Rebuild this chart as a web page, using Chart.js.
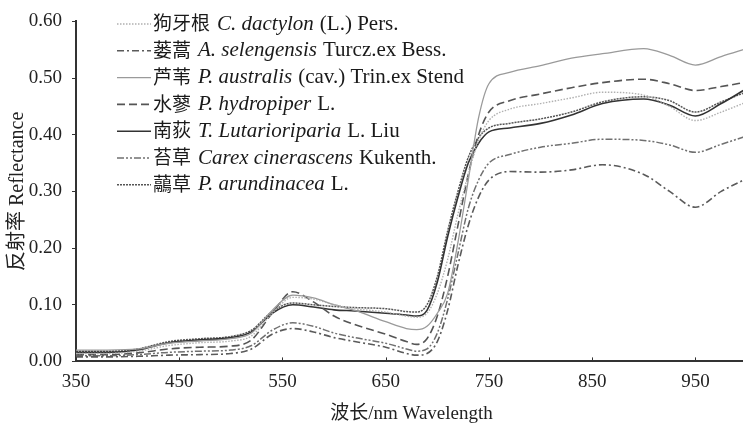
<!DOCTYPE html>
<html>
<head>
<meta charset="utf-8">
<script src="https://cdn.jsdelivr.net/npm/chart.js@4.4.1/dist/chart.umd.min.js"></script>
<style>
  html, body { margin: 0; padding: 0; background: #fff; overflow: hidden; }
  #wrap { width: 750px; height: 427px; }
</style>
</head>
<body>
<div id="wrap"><canvas id="spectra"></canvas></div>
<script>
// wavelengths (nm)
var wavelength = [350,380,410,440,470,500,520,540,560,580,600,620,650,670,680,690,700,710,720,730,740,750,770,800,830,860,900,925,950,975,1000];

// reflectance per species
var cynodon     = [0.014,0.014,0.018,0.028,0.033,0.036,0.045,0.085,0.113,0.110,0.100,0.093,0.087,0.080,0.078,0.085,0.120,0.180,0.260,0.330,0.390,0.425,0.445,0.455,0.465,0.475,0.470,0.450,0.425,0.440,0.458];
var artemisia   = [0.008,0.008,0.009,0.011,0.012,0.014,0.022,0.048,0.058,0.052,0.042,0.035,0.025,0.014,0.011,0.014,0.035,0.090,0.170,0.240,0.290,0.320,0.335,0.334,0.338,0.347,0.330,0.300,0.272,0.300,0.323];
var phragmites  = [0.020,0.020,0.022,0.032,0.036,0.040,0.050,0.090,0.117,0.112,0.100,0.090,0.070,0.058,0.056,0.062,0.085,0.120,0.210,0.320,0.430,0.490,0.510,0.522,0.535,0.543,0.552,0.540,0.523,0.538,0.552];
var polygonum   = [0.012,0.012,0.015,0.022,0.025,0.027,0.038,0.085,0.123,0.105,0.080,0.065,0.048,0.035,0.030,0.040,0.080,0.150,0.240,0.330,0.400,0.440,0.460,0.472,0.483,0.492,0.498,0.490,0.478,0.485,0.493];
var triarrhena  = [0.016,0.016,0.020,0.033,0.038,0.042,0.052,0.085,0.100,0.096,0.091,0.089,0.085,0.082,0.080,0.090,0.140,0.220,0.290,0.350,0.385,0.405,0.412,0.420,0.435,0.455,0.463,0.452,0.433,0.455,0.482];
var carex       = [0.010,0.010,0.012,0.016,0.018,0.020,0.028,0.055,0.068,0.062,0.050,0.042,0.032,0.022,0.018,0.022,0.050,0.110,0.190,0.270,0.320,0.350,0.365,0.378,0.385,0.392,0.390,0.382,0.369,0.383,0.398];
var phalaris    = [0.018,0.018,0.022,0.035,0.040,0.044,0.055,0.088,0.103,0.100,0.097,0.095,0.093,0.088,0.087,0.100,0.150,0.230,0.300,0.360,0.395,0.412,0.420,0.428,0.440,0.458,0.467,0.460,0.440,0.458,0.476];

var cnNames    = ["狗牙根", "蒌蒿", "芦苇", "水蓼", "南荻", "苔草", "虉草"];
var latinNames = ["C. dactylon", "A. selengensis", "P. australis", "P. hydropiper", "T. Lutarioriparia", "Carex cinerascens", "P. arundinacea"];
var authors    = ["(L.) Pers.", "Turcz.ex Bess.", "(cav.) Trin.ex Stend", "L.", "L. Liu", "Kukenth.", "L."];

var xTicks = [350,450,550,650,750,850,950];
var yTicks = [0,0.1,0.2,0.3,0.4,0.5,0.6];

var series = [cynodon, artemisia, phragmites, polygonum, triarrhena, carex, phalaris];
var styles = [
  {color: '#b0b0b0', dash: [1.5,1.5], width: 1.4},
  {color: '#5a5a5a', dash: [7,3,2,3], width: 1.6},
  {color: '#9a9a9a', dash: [],        width: 1.3},
  {color: '#555555', dash: [8,4],     width: 1.6},
  {color: '#333333', dash: [],        width: 1.6},
  {color: '#707070', dash: [7,2,2,2,2,2], width: 1.5},
  {color: '#555555', dash: [2,1],     width: 1.5}
];

var serif = '"Liberation Serif", "Times New Roman", serif';
var cjk = '"Noto Sans CJK SC", sans-serif';

function toPoints(arr){
  return arr.map(function(v, i){ return {x: wavelength[i], y: v}; });
}

var legendPlugin = {
  id: 'speciesLegend',
  afterDraw: function(chart){
    var ctx = chart.ctx;
    ctx.save();
    ctx.textBaseline = 'middle';
    for (var i = 0; i < cnNames.length; i++) {
      var y = 23 + i * 26.8;
      var st = styles[i];
      ctx.strokeStyle = st.color;
      ctx.lineWidth = st.width;
      ctx.setLineDash(st.dash);
      ctx.beginPath();
      ctx.moveTo(117, y + 1);
      ctx.lineTo(151, y + 1);
      ctx.stroke();
      ctx.setLineDash([]);
      var x = 153;
      ctx.fillStyle = '#1a1a1a';
      ctx.font = '19px ' + cjk;
      ctx.fillText(cnNames[i], x, y);
      x += ctx.measureText(cnNames[i]).width + 7;
      ctx.font = 'italic 21px ' + serif;
      ctx.fillText(latinNames[i], x, y + 1);
      x += ctx.measureText(latinNames[i]).width + 6;
      ctx.font = '21px ' + serif;
      ctx.fillText(authors[i], x, y + 1);
    }
    // small inward tick marks on the x axis
    var xs = chart.scales.x, bottom = chart.chartArea.bottom;
    ctx.strokeStyle = '#333';
    ctx.lineWidth = 1;
    xTicks.forEach(function(t){
      var px = Math.round(xs.getPixelForValue(t)) + 0.5;
      ctx.beginPath();
      ctx.moveTo(px, bottom);
      ctx.lineTo(px, bottom - 4);
      ctx.stroke();
    });
    ctx.restore();
  }
};

var datasets = series.map(function(s, i){
  return {
    label: cnNames[i] + ' ' + latinNames[i] + ' ' + authors[i],
    data: toPoints(s),
    borderColor: styles[i].color,
    borderWidth: styles[i].width,
    borderDash: styles[i].dash,
    pointRadius: 0,
    fill: false,
    cubicInterpolationMode: 'monotone'
  };
});

new Chart(document.getElementById('spectra').getContext('2d'), {
  type: 'line',
  data: { datasets: datasets },
  options: {
    responsive: true,
    maintainAspectRatio: false,
    animation: false,
    layout: { padding: { top: 14, right: 3, left: 0, bottom: 2 } },
    plugins: { legend: { display: false }, tooltip: { enabled: false } },
    scales: {
      x: {
        type: 'linear',
        min: 350,
        max: 1000,
        afterBuildTicks: function(axis){ axis.ticks = xTicks.map(function(v){ return {value: v}; }); },
        grid: { display: false, drawTicks: false },
        border: { display: true, color: '#333', width: 2 },
        ticks: { color: '#222', font: { family: serif, size: 19 }, padding: 9, maxRotation: 0 },
        title: { display: true, text: '波长/nm Wavelength', color: '#222', font: { family: serif + ', ' + cjk, size: 19 }, padding: { top: 0, bottom: 0 } }
      },
      y: {
        min: 0,
        max: 0.6,
        afterBuildTicks: function(axis){ axis.ticks = yTicks.map(function(v){ return {value: v}; }); },
        afterFit: function(scale){ scale.width = 76; },
        grid: { display: true, drawOnChartArea: false, drawTicks: true, tickLength: 4, color: '#333' },
        border: { display: true, color: '#333', width: 2 },
        ticks: { color: '#222', font: { family: serif, size: 19 }, padding: 10, callback: function(v){ return Number(v).toFixed(2); } },
        title: { display: true, text: '反射率 Reflectance', color: '#222', font: { family: serif + ', ' + cjk, size: 20 }, padding: { top: 6, bottom: 0 } }
      }
    }
  },
  plugins: [legendPlugin]
});
</script>
</body>
</html>
